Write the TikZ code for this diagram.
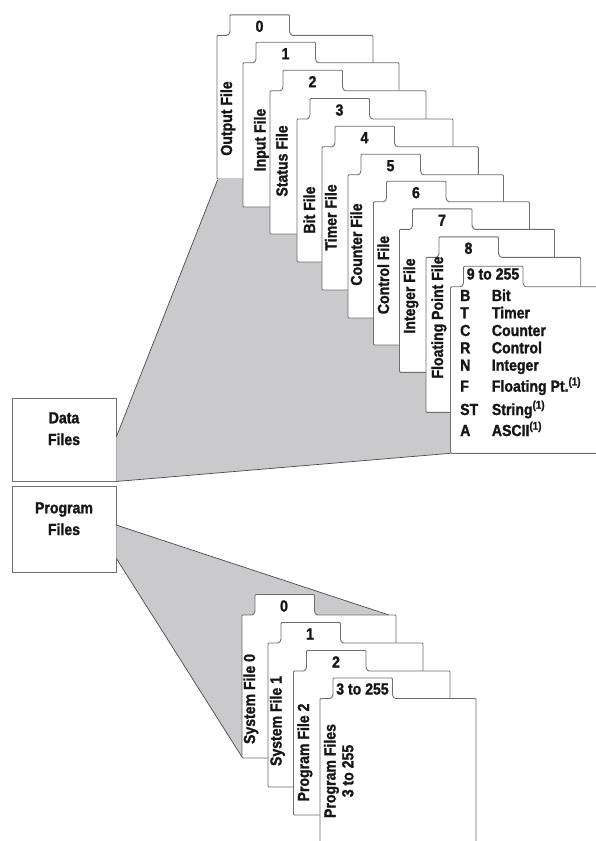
\documentclass[tikz,border=0pt]{standalone}
\usepackage{fontspec}
\newfontfamily\condfont[FakeStretch=0.88,BoldFeatures={FakeBold=1.4}]{Liberation Sans}
\usetikzlibrary{calc}

\definecolor{edge}{HTML}{6E6E6E}
\definecolor{wedge}{HTML}{CACACD}
\definecolor{wedgeline}{HTML}{4A4A4A}
\definecolor{ink}{HTML}{161616}

\newcommand\labelfont{\condfont\bfseries\fontsize{16}{18}\selectfont}

% A file card with its index tab: left, top, right, bottom (y grows downwards)
\newcommand\filecard[4]{%
  \draw[card] (#1,#4) -- (#1,#2) -- ({#1+11},#2) -- ({#1+13},{#2-3})
    -- ({#1+13},{#2-20.5}) -- ({#1+72.5},{#2-20.5}) -- ({#1+72.5},{#2-3})
    -- ({#1+74.5},#2) -- (#3,#2) -- (#3,#4) -- cycle;}

\begin{document}
\begin{tikzpicture}[x=1pt,y=-1pt,
  card/.style={draw=edge,line width=0.9pt,fill=white,rounded corners=1pt},
  box/.style={draw=edge,line width=0.9pt,fill=white,minimum width=104pt,inner sep=0pt},
  wedgeedge/.style={draw=wedgeline,line width=0.7pt},
  txt/.style={font=\labelfont,text=ink,inner sep=0pt},
  tablabel/.style={txt,anchor=base},
  spine/.style={txt,rotate=90,anchor=base},
  legend/.style={txt,anchor=base west}]

\useasboundingbox (0,0) rectangle (595,841);

% ---- the two file groups ----
\node[box,minimum height=83pt] (databox) at (64,439.5) {};
\node[box,minimum height=86pt] (progbox) at (64,529) {};
\node[txt,anchor=base] (datatitle1) at (64,423.3) {Data};
\node[txt,anchor=base] (datatitle2) at (64,445) {Files};
\node[txt,anchor=base] (progtitle1) at (64,513.3) {Program};
\node[txt,anchor=base] (progtitle2) at (64,535) {Files};

% ---- shaded fans leading to the stacks ----
\coordinate (dataup) at ($(databox.north east)!0.465!(databox.south east)$);
\coordinate (datatop) at (217.5,180);
\coordinate (datalow) at (450.5,453.3);
\fill[wedge] (dataup) -- (datatop) -- (455,180) -- (455,453.3) -- (datalow) -- (databox.south east) -- cycle;
\draw[wedgeedge] (dataup) -- (datatop);
\draw[wedgeedge] (databox.south east) -- (datalow);

\coordinate (progup) at ($(progbox.north east)!0.455!(progbox.south east)$);
\coordinate (proglow) at ($(progbox.north east)!0.84!(progbox.south east)$);
\coordinate (progtop) at (389,615);
\coordinate (progend) at (242,757);
\fill[wedge] (progup) -- (progtop) -- (242,615) -- (progend) -- (proglow) -- cycle;
\draw[wedgeedge] (progup) -- (progtop);
\draw[wedgeedge] (proglow) -- (progend);

% ---- data file stack ----
\filecard{217}{35.3}{373}{179}
\node[tablabel] (dt0) at (259.5,31.8) {0};
\node[spine] (ds0) at (232,118.5) {Output File};

\filecard{243}{62.7}{399}{207}
\node[tablabel] (dt1) at (285.5,59.2) {1};
\node[spine] (ds1) at (265.5,140) {Input File};

\filecard{270}{90.7}{426}{234}
\node[tablabel] (dt2) at (312.5,87.2) {2};
\node[spine] (ds2) at (287.5,161) {Status File};

\filecard{297}{119}{453}{262}
\node[tablabel] (dt3) at (339.5,115.5) {3};
\node[spine] (ds3) at (315,210) {Bit File};

\filecard{322}{146.7}{478.3}{290}
\node[tablabel] (dt4) at (364.5,143.2) {4};
\node[spine] (ds4) at (336.5,217.5) {Timer File};

\filecard{348}{174.7}{503.5}{318}
\node[tablabel] (dt5) at (390.5,171.2) {5};
\node[spine] (ds5) at (362,244.5) {Counter File};

\filecard{373.5}{201.7}{529.5}{345}
\node[tablabel] (dt6) at (416,198.2) {6};
\node[spine] (ds6) at (389,275) {Control File};

\filecard{399.5}{229.3}{554.5}{372.3}
\node[tablabel] (dt7) at (442,225.8) {7};
\node[spine] (ds7) at (415,296) {Integer File};

\filecard{426}{257.3}{580.7}{412.3}
\node[tablabel] (dt8) at (468.5,253.8) {8};
\node[spine] (ds8) at (443,317.5) {Floating Point File};

\filecard{450.5}{286.7}{640}{453.3}
\node[tablabel] (dt9) at (493,279.5) {9 to 255};

% file type letters and names
\node[legend] (k1) at (460,301) {B};   \node[legend] (n1) at (491.7,301) {Bit};
\node[legend] (k2) at (460,318.3) {T}; \node[legend] (n2) at (491.7,318.3) {Timer};
\node[legend] (k3) at (460,336) {C};   \node[legend] (n3) at (491.7,336) {Counter};
\node[legend] (k4) at (460,353.3) {R}; \node[legend] (n4) at (491.7,353.3) {Control};
\node[legend] (k5) at (460,370.7) {N}; \node[legend] (n5) at (491.7,370.7) {Integer};
\node[legend] (k6) at (460,391.7) {F}; \node[legend] (n6) at (491.7,391.7) {Floating Pt.\textsuperscript{(1)}};
\node[legend] (k7) at (460,415) {ST};  \node[legend] (n7) at (491.7,415) {String\textsuperscript{(1)}};
\node[legend] (k8) at (460,436) {A};   \node[legend] (n8) at (491.7,436) {ASCII\textsuperscript{(1)}};

% ---- program file stack ----
\filecard{242}{615}{396}{758}
\node[tablabel] (pt0) at (284,611.5) {0};
\node[spine] (ps0) at (255,699) {System File 0};

\filecard{268}{643}{423}{787}
\node[tablabel] (pt1) at (310,639.5) {1};
\node[spine] (ps1) at (281.5,721) {System File 1};

\filecard{293.5}{671}{450}{815}
\node[tablabel] (pt2) at (336,667.5) {2};
\node[spine] (ps2) at (309,752.5) {Program File 2};

\filecard{320}{698.5}{476}{870}
\node[tablabel] (pt3) at (362.5,694.5) {3 to 255};
\node[spine] (ps3a) at (335.5,771) {Program Files};
\node[spine] (ps3b) at (353.3,771) {3 to 255};

\end{tikzpicture}
\end{document}
